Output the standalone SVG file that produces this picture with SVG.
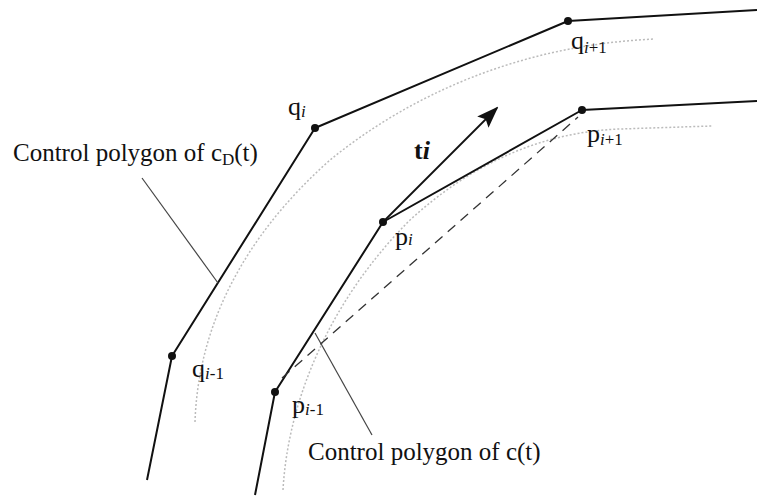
<svg xmlns="http://www.w3.org/2000/svg" width="757" height="497" viewBox="0 0 757 497">
<defs>
<style>
text{font-family:"Liberation Serif","Times New Roman",serif;fill:#111;font-size:25px}
.lab{font-size:26px}
.sub{font-size:17px}
.it{font-style:italic}
.poly{fill:none;stroke:#111;stroke-width:2;stroke-linejoin:round}
.curve{fill:none;stroke:#bbb;stroke-width:1.5;stroke-dasharray:2 2}
.lead{stroke:#444;stroke-width:1.2}
.dash{stroke:#333;stroke-width:1.3;stroke-dasharray:10 7}
.dot{fill:#111}
</style>
<marker id="ah" markerWidth="22" markerHeight="16" refX="20" refY="8" orient="auto" markerUnits="userSpaceOnUse">
<path d="M0,0 L22,8 L0,16 L4,8 Z" fill="#111"/>
</marker>
</defs>
<rect width="757" height="497" fill="#fff"/>
<g id="curves">
<path class="curve" d="M195,422 C198,330 240,240 330,160 C410,95 520,45 655,39"/>
<path class="curve" d="M283,490 C288,400 330,300 410,220 C470,165 540,132 620,129 L712,126"/>
</g>
<g id="connectors">
<path class="poly" d="M147,480 L172,356 L315,128 L568,21 L757,10"/>
<path class="poly" d="M255,495 L275,392 L383,222 L582,110 L757,101"/>
<line class="dash" x1="282" y1="378" x2="578" y2="117"/>
<line x1="383" y1="222" x2="497" y2="108" stroke="#111" stroke-width="1.8" marker-end="url(#ah)"/>
<line class="lead" x1="142" y1="178" x2="218" y2="283"/>
<line class="lead" x1="315" y1="333" x2="372" y2="435"/>
</g>
<g id="node-qi1m"><circle class="dot" cx="172" cy="356" r="4"/><text class="lab" x="192" y="377">q<tspan class="sub it" dy="2">i</tspan><tspan class="sub">-1</tspan></text></g>
<g id="node-qi"><circle class="dot" cx="315" cy="128" r="4"/><text class="lab" x="288" y="115">q<tspan class="sub it" dy="2">i</tspan></text></g>
<g id="node-qi1p"><circle class="dot" cx="568" cy="21" r="4"/><text class="lab" x="571" y="49">q<tspan class="sub it" dy="4">i</tspan><tspan class="sub">+1</tspan></text></g>
<g id="node-pi1m"><circle class="dot" cx="275" cy="392" r="4"/><text class="lab" x="292" y="413">p<tspan class="sub it" dy="2">i</tspan><tspan class="sub">-1</tspan></text></g>
<g id="node-pi"><circle class="dot" cx="383" cy="222" r="4"/><text class="lab" x="395" y="245">p<tspan class="sub it">i</tspan></text></g>
<g id="node-pi1p"><circle class="dot" cx="582" cy="110" r="4"/><text class="lab" x="587" y="142">p<tspan class="sub it" dy="3">i</tspan><tspan class="sub">+1</tspan></text></g>
<g id="label-ti"><text class="lab" x="414" y="159" font-weight="bold">t<tspan class="it">i</tspan></text></g>
<g id="label-cD"><text x="13" y="161">Control polygon of c<tspan class="sub" dy="4">D</tspan><tspan dy="-4">(t)</tspan></text></g>
<g id="label-c"><text x="308" y="460">Control polygon of c(t)</text></g>
</svg>
